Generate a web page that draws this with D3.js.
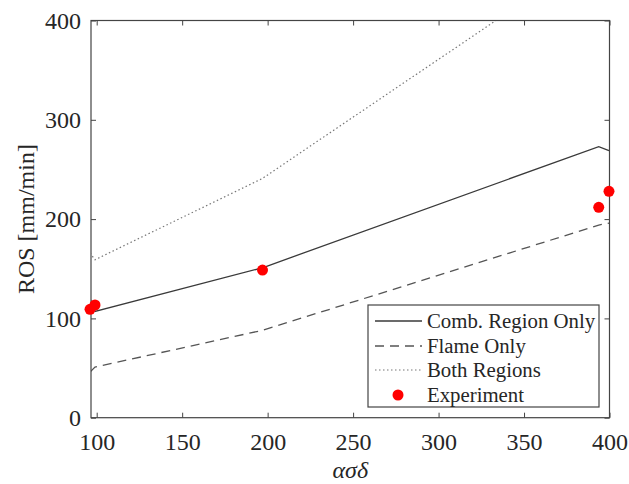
<!DOCTYPE html>
<html>
<head>
<meta charset="utf-8">
<script src="https://cdn.jsdelivr.net/npm/d3@7"></script>
<style>
  body { margin: 0; background: #fff; }
  text { font-family: "Liberation Serif", "Times New Roman", serif; fill: #262626; }
</style>
</head>
<body>
<svg id="chart" width="629" height="484"></svg>
<script>
// ---- data ----
const modelX      = [96.1, 99, 197, 393.7, 399.7];
const combRegion  = [120, 107, 151, 273, 269];
const flameOnly   = [46, 51, 88, 194, 196];
const bothRegions = [166, 159, 241, 470, 470];
const expX        = [96.1, 99, 197, 393.7, 399.7];
const expY        = [109.2, 113.5, 148.7, 211.9, 228];
const xTicks = [100, 150, 200, 250, 300, 350, 400];
const yTicks = [0, 100, 200, 300, 400];
const legendLabels = ["Comb. Region Only", "Flame Only", "Both Regions", "Experiment"];

// ---- layout ----
const svg = d3.select("#chart");
const L = 91, R = 609.5, T = 20.5, B = 417.7;
const x = d3.scaleLinear().domain([96.67, 400]).range([L, R]);
const y = d3.scaleLinear().domain([0, 400]).range([B, T]);
const axisColor = "#444";

svg.append("defs").append("clipPath").attr("id", "clip")
  .append("rect").attr("x", L).attr("y", T).attr("width", R - L).attr("height", B - T);

const series = [
  { vals: combRegion,  dash: null,      color: "#3a3a3a", w: 1.3 },
  { vals: flameOnly,   dash: "9,6",     color: "#555",    w: 1.3 },
  { vals: bothRegions, dash: "1.5,2.5", color: "#777",    w: 1.2 }
];
const line = d3.line().x(d => x(d[0])).y(d => y(d[1]));
const plot = svg.append("g").attr("clip-path", "url(#clip)");
series.forEach(s => {
  plot.append("path")
    .datum(modelX.map((xv, i) => [xv, s.vals[i]]))
    .attr("d", line)
    .attr("fill", "none")
    .attr("stroke", s.color)
    .attr("stroke-width", s.w)
    .attr("stroke-dasharray", s.dash);
});

// axes (box with inward ticks on all sides)
const fs = 24;
const xb = svg.append("g").attr("transform", `translate(0,${B})`)
  .call(d3.axisBottom(x).tickValues(xTicks).tickSizeInner(-5).tickSizeOuter(0).tickPadding(15.5));
const xt = svg.append("g").attr("transform", `translate(0,${T})`)
  .call(d3.axisTop(x).tickValues(xTicks).tickSizeInner(-5).tickSizeOuter(0).tickFormat(""));
const yl = svg.append("g").attr("transform", `translate(${L},0)`)
  .call(d3.axisLeft(y).tickValues(yTicks).tickSizeInner(-5).tickSizeOuter(0).tickPadding(10));
const yr = svg.append("g").attr("transform", `translate(${R},0)`)
  .call(d3.axisRight(y).tickValues(yTicks).tickSizeInner(-5).tickSizeOuter(0).tickFormat(""));
[xb, xt, yl, yr].forEach(g => {
  g.selectAll("path.domain").remove();
  g.selectAll("line").attr("stroke", axisColor);
  g.selectAll("text").attr("font-size", fs).attr("font-family", "Liberation Serif").attr("fill", "#262626");
});
xb.selectAll("text").attr("dy", "0.71em");
svg.append("rect").attr("x", L).attr("y", T).attr("width", R - L).attr("height", B - T)
  .attr("fill", "none").attr("stroke", axisColor).attr("stroke-width", 1.2);

// experiment dots
svg.append("g").selectAll("circle")
  .data(expX.map((xv, i) => [xv, expY[i]]))
  .join("circle")
  .attr("cx", d => x(d[0])).attr("cy", d => y(d[1]))
  .attr("r", 5.5).attr("fill", "#ff0000");

// axis labels
svg.append("text").attr("x", (L + R) / 2).attr("y", 478)
  .attr("text-anchor", "middle").attr("font-size", 24).attr("font-style", "italic")
  .text("ασδ");
svg.append("text").attr("transform", `translate(34,${(T + B) / 2}) rotate(-90)`)
  .attr("text-anchor", "middle").attr("font-size", 24)
  .text("ROS [mm/min]");

// legend
const lg = svg.append("g");
lg.append("rect").attr("x", 368).attr("y", 305).attr("width", 231).attr("height", 102)
  .attr("fill", "#fff").attr("stroke", axisColor).attr("stroke-width", 1.2);
const rows = [321, 346, 370, 395];
legendLabels.forEach((lab, i) => {
  const yy = rows[i];
  if (i < 3) {
    const s = series[i];
    lg.append("line").attr("x1", 375).attr("x2", 422).attr("y1", yy).attr("y2", yy)
      .attr("stroke", s.color).attr("stroke-width", s.w).attr("stroke-dasharray", s.dash);
  } else {
    lg.append("circle").attr("cx", 398).attr("cy", yy).attr("r", 5.5).attr("fill", "#ff0000");
  }
  lg.append("text").attr("x", 427).attr("y", yy).attr("dy", "0.35em")
    .attr("font-size", 20.8).text(lab);
});
</script>
</body>
</html>
